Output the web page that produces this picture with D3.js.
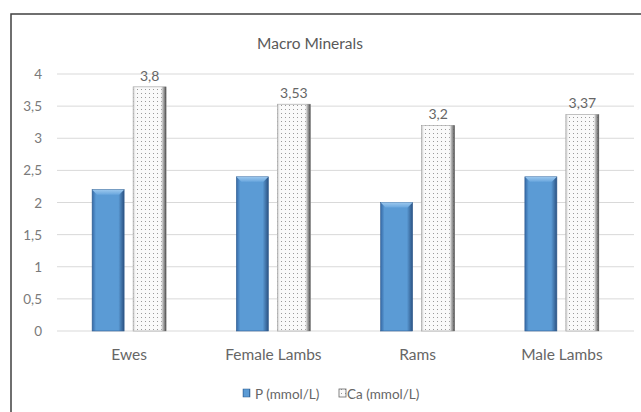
<!DOCTYPE html>
<html><head><meta charset="utf-8">
<script src="https://cdn.jsdelivr.net/npm/d3@7"></script>
<style>body{margin:0;background:#fff}svg{display:block}text{font-family:Lato,"Open Sans",sans-serif}</style>
</head><body>
<script>
const categories = ["Ewes", "Female Lambs", "Rams", "Male Lambs"];
const seriesNames = ["P (mmol/L)", "Ca (mmol/L)"];
const pValues = [2.2, 2.4, 2.0, 2.4];
const caValues = [3.8, 3.53, 3.2, 3.37];
const caLabels = ["3,8", "3,53", "3,2", "3,37"];
const yTicks = [0, 0.5, 1, 1.5, 2, 2.5, 3, 3.5, 4];
const yTickLabels = ["0", "0,5", "1", "1,5", "2", "2,5", "3", "3,5", "4"];
const title = "Macro Minerals";

const W = 641, H = 412;
const svg = d3.select("body").append("svg").attr("width", W).attr("height", H);
const defs = svg.append("defs");

const gP = defs.append("linearGradient").attr("id", "gp").attr("x1", 0).attr("x2", 1).attr("y1", 0).attr("y2", 0);
[[0, "#3569a6"], [0.12, "#5b9bd5"], [0.82, "#5b9bd5"], [1, "#2b5282"]].forEach(s => gP.append("stop").attr("offset", s[0]).attr("stop-color", s[1]));
const gPt = defs.append("linearGradient").attr("id", "gpt").attr("x1", 0).attr("x2", 0).attr("y1", 0).attr("y2", 1);
[[0, "#9cc8ee"], [1, "#6aa7de"]].forEach(s => gPt.append("stop").attr("offset", s[0]).attr("stop-color", s[1]));

const pat = defs.append("pattern").attr("id", "dots").attr("patternUnits", "userSpaceOnUse").attr("width", 4).attr("height", 4);
pat.append("rect").attr("width", 4).attr("height", 4).attr("fill", "#fafafa");
pat.append("rect").attr("x", 1).attr("y", 1).attr("width", 1).attr("height", 1).attr("fill", "#999");
const gC = defs.append("linearGradient").attr("id", "gc").attr("x1", 0).attr("x2", 1).attr("y1", 0).attr("y2", 0);
[[0, "#b0b0b0", 0.8], [0.1, "#ffffff", 0], [0.82, "#ffffff", 0], [0.9, "#8a8a8a", 0.6], [1, "#4a4a4a", 1]].forEach(s => gC.append("stop").attr("offset", s[0]).attr("stop-color", s[1]).attr("stop-opacity", s[2]));

// frame
svg.append("rect").attr("x", 11).attr("y", 14).attr("width", 720).attr("height", 520)
  .attr("fill", "none").attr("stroke", "#404040").attr("stroke-width", 1.5);

const x = d3.scaleBand().domain(categories).range([57, 634]);
const y = d3.scaleLinear().domain([0, 4]).range([331, 74]);

// gridlines
svg.append("g").selectAll("line").data(yTicks).join("line")
  .attr("x1", 57).attr("x2", 634).attr("y1", d => y(d)).attr("y2", d => y(d))
  .attr("stroke", "#d9d9d9").attr("stroke-width", 1);

// y tick labels
svg.append("g").selectAll("text").data(yTicks).join("text")
  .attr("x", 42).attr("y", d => y(d) + 5).attr("text-anchor", "end")
  .attr("font-size", 13.5).attr("fill", "#7a7a7a").text((d, i) => yTickLabels[i]);

const bw = 32;
// P bars
const pg = svg.append("g").selectAll("g").data(categories).join("g");
pg.append("rect")
  .attr("x", d => x(d) + x.bandwidth() / 2 - 37).attr("width", bw)
  .attr("y", (d, i) => y(pValues[i])).attr("height", (d, i) => y(0) - y(pValues[i]))
  .attr("fill", "url(#gp)").attr("stroke", "#2f5d8f").attr("stroke-width", 0.6);
pg.append("path")
  .attr("d", (d, i) => {
    const x0 = x(d) + x.bandwidth() / 2 - 37, y0 = y(pValues[i]);
    return `M${x0},${y0}L${x0 + bw},${y0}L${x0 + bw - 5},${y0 + 5}L${x0 + 5},${y0 + 5}Z`;
  }).attr("fill", "url(#gpt)");

// Ca bars
const cg = svg.append("g").selectAll("g").data(categories).join("g");
cg.append("rect")
  .attr("x", d => x(d) + x.bandwidth() / 2 + 4).attr("width", bw + 1)
  .attr("y", (d, i) => y(caValues[i])).attr("height", (d, i) => y(0) - y(caValues[i]))
  .attr("fill", "url(#dots)").attr("stroke", "#9a9a9a").attr("stroke-width", 0.6);
cg.append("rect")
  .attr("x", d => x(d) + x.bandwidth() / 2 + 4).attr("width", bw + 1)
  .attr("y", (d, i) => y(caValues[i])).attr("height", (d, i) => y(0) - y(caValues[i]))
  .attr("fill", "url(#gc)");
cg.append("text")
  .attr("x", d => x(d) + x.bandwidth() / 2 + 20.5).attr("y", (d, i) => y(caValues[i]) - 6)
  .attr("text-anchor", "middle").attr("font-size", 14).attr("fill", "#666")
  .text((d, i) => caLabels[i]);

// x labels
svg.append("g").selectAll("text").data(categories).join("text")
  .attr("x", d => x(d) + x.bandwidth() / 2).attr("y", 360)
  .attr("text-anchor", "middle").attr("font-size", 15.5).attr("fill", "#666").text(d => d);

// title
svg.append("text").attr("x", 310).attr("y", 49).attr("text-anchor", "middle")
  .attr("font-size", 15.5).attr("fill", "#595959").text(title);

// legend
const lg = svg.append("g");
lg.append("rect").attr("x", 243).attr("y", 389).attr("width", 7).attr("height", 8).attr("fill", "url(#gp)").attr("stroke", "#2f5d8f").attr("stroke-width", 0.5);
lg.append("text").attr("x", 255).attr("y", 399).attr("font-size", 13.5).attr("fill", "#666").text(seriesNames[0]);
lg.append("rect").attr("x", 339).attr("y", 389).attr("width", 7).attr("height", 8).attr("fill", "url(#dots)").attr("stroke", "#666").attr("stroke-width", 0.8);
lg.append("text").attr("x", 347).attr("y", 399).attr("font-size", 13.5).attr("fill", "#666").text(seriesNames[1]);
</script>
</body></html>
